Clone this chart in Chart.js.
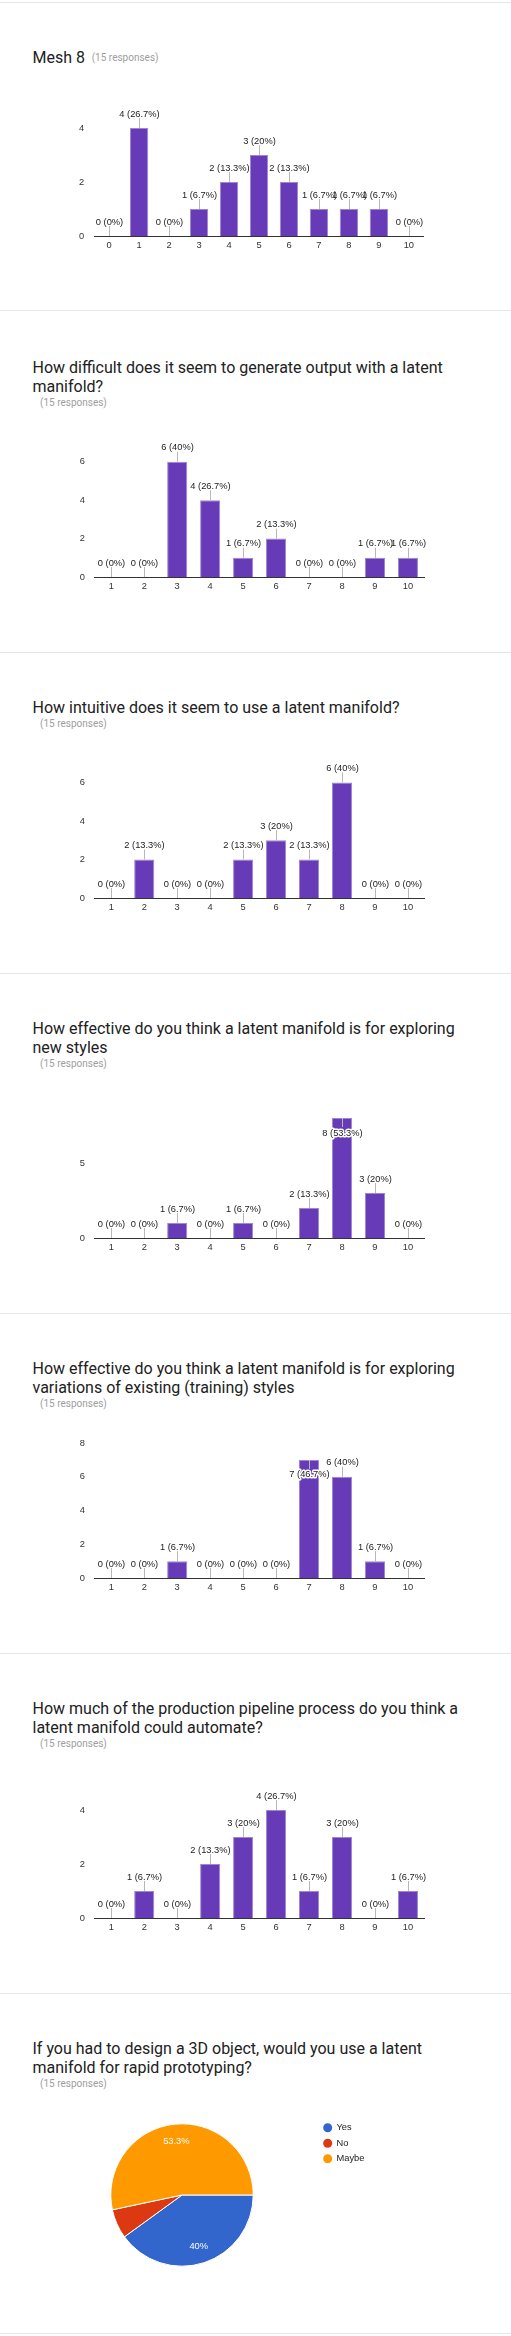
<!DOCTYPE html>
<html><head><meta charset="utf-8">
<script src="https://cdn.jsdelivr.net/npm/chart.js@4"></script>
<style>
html,body{margin:0;padding:0;background:#fff;}
body{position:relative;width:511px;height:2336px;overflow:hidden;}
.sep{position:absolute;left:0;width:511px;height:1px;background:#e6e6e6;}
.title{position:absolute;left:32.5px;font-family:Roboto,sans-serif;font-size:16px;line-height:19px;color:#212121;white-space:nowrap;}
.resp{position:absolute;left:40px;font-family:Roboto,sans-serif;font-size:10px;line-height:12px;color:#9e9e9e;white-space:nowrap;}
canvas{position:absolute;left:0;}
</style></head>
<body>
<div class="sep" style="top:2px"></div>
<div class="sep" style="top:310px"></div>
<div class="sep" style="top:652px"></div>
<div class="sep" style="top:973px"></div>
<div class="sep" style="top:1313px"></div>
<div class="sep" style="top:1653px"></div>
<div class="sep" style="top:1993px"></div>
<div class="sep" style="top:2333px"></div>

<div class="title" style="top:48.3px">Mesh 8</div>
<div class="resp" style="left:91.7px;top:51.7px">(15 responses)</div>
<canvas id="c1" width="511" height="190" style="top:76px"></canvas>

<div class="title" style="top:358.3px">How difficult does it seem to generate output with a latent<br>manifold?</div>
<div class="resp" style="top:396.7px">(15 responses)</div>
<canvas id="c2" width="511" height="190" style="top:417px"></canvas>

<div class="title" style="top:698.3px">How intuitive does it seem to use a latent manifold?</div>
<div class="resp" style="top:717.7px">(15 responses)</div>
<canvas id="c3" width="511" height="190" style="top:738.3px"></canvas>

<div class="title" style="top:1019.3px">How effective do you think a latent manifold is for exploring<br>new styles</div>
<div class="resp" style="top:1057.7px">(15 responses)</div>
<canvas id="c4" width="511" height="190" style="top:1078.3px"></canvas>

<div class="title" style="top:1359.3px">How effective do you think a latent manifold is for exploring<br>variations of existing (training) styles</div>
<div class="resp" style="top:1397.7px">(15 responses)</div>
<canvas id="c5" width="511" height="190" style="top:1418.3px"></canvas>

<div class="title" style="top:1699.3px">How much of the production pipeline process do you think a<br>latent manifold could automate?</div>
<div class="resp" style="top:1737.7px">(15 responses)</div>
<canvas id="c6" width="511" height="190" style="top:1758.3px"></canvas>

<div class="title" style="top:2039.3px">If you had to design a 3D object, would you use a latent<br>manifold for rapid prototyping?</div>
<div class="resp" style="top:2077.7px">(15 responses)</div>
<canvas id="c7" width="511" height="200" style="top:2100px"></canvas>

<script>
// ---- data ----
const responses = 15;
const mesh8Categories = ['0','1','2','3','4','5','6','7','8','9','10'];
const scaleCategories = ['1','2','3','4','5','6','7','8','9','10'];
const mesh8Counts = [0,4,0,1,2,3,2,1,1,1,0];
const difficultyCounts = [0,0,6,4,1,2,0,0,1,1];
const intuitiveCounts = [0,2,0,0,2,3,2,6,0,0];
const newStylesCounts = [0,0,1,0,1,0,2,8,3,0];
const variationsCounts = [0,0,1,0,0,0,7,6,1,0];
const automationCounts = [0,1,0,2,3,4,1,3,0,1];
const mesh8Ticks = [0,2,4];
const difficultyTicks = [0,2,4,6];
const intuitiveTicks = [0,2,4,6];
const newStylesTicks = [0,5];
const variationsTicks = [0,2,4,6,8];
const automationTicks = [0,2,4];
const prototypingLabels = ['Yes','No','Maybe'];
const prototypingCounts = [6,1,8];

// ---- styling ----
const FONT = '"Liberation Sans", Arial, sans-serif';
const FS = 9.3;
Chart.defaults.font.family = FONT;
Chart.defaults.font.size = FS;
Chart.defaults.color = '#333';

function pct(v){
  const p = Math.round(v / responses * 1000) / 10;
  return (Number.isInteger(p) ? p.toFixed(0) : p.toFixed(1)) + '%';
}

const valueLabels = {
  id: 'valueLabels',
  afterDatasetsDraw(chart){
    const ctx = chart.ctx, area = chart.chartArea;
    const meta = chart.getDatasetMeta(0), data = chart.data.datasets[0].data;
    ctx.save();
    ctx.font = FS + 'px ' + FONT;
    ctx.textAlign = 'center';
    ctx.textBaseline = 'middle';
    meta.data.forEach((bar, i) => {
      const v = data[i];
      const x = Math.round(bar.x) + 0.5, top = bar.y;
      const txt = v + ' (' + pct(v) + ')';
      const inside = top - 20 < area.top;
      ctx.strokeStyle = '#b8b8b8'; ctx.lineWidth = 1;
      ctx.beginPath();
      if (inside){ ctx.moveTo(x, top); ctx.lineTo(x, top + 9); }
      else { ctx.moveTo(x, top - 10); ctx.lineTo(x, top); }
      ctx.stroke();
      const ty = inside ? top + 15 : top - 14;
      if (inside){ ctx.lineWidth = 3; ctx.strokeStyle = '#fff'; ctx.lineJoin='round'; ctx.strokeText(txt, x, ty); }
      ctx.fillStyle = '#222';
      ctx.fillText(txt, x, ty);
    });
    ctx.restore();
  }
};

function barChart(id, cats, counts, ticks, unit, ymax, left, right){
  const H = 190, zero = 160, xh = 20, yw = 20;
  new Chart(document.getElementById(id), {
    type: 'bar',
    data: { labels: cats, datasets: [{
      data: counts,
      backgroundColor: '#673ab7',
      borderColor: '#9f86d1',
      borderWidth: c => (c.raw ? 1 : 0),
      borderSkipped: 'start',
      categoryPercentage: 1,
      barPercentage: 0.61
    }]},
    options: {
      responsive: false, animation: false,
      layout: { padding: { left: left - yw, right: 511 - right, top: zero - ymax * unit, bottom: H - zero - xh } },
      plugins: { legend: { display: false }, tooltip: { enabled: false } },
      scales: {
        x: {
          grid: { display: false, drawTicks: false },
          border: { display: true, color: '#333', width: 1 },
          ticks: { padding: 4, color: '#333', maxRotation: 0, autoSkip: false },
          afterFit: s => { s.height = xh; }
        },
        y: {
          min: 0, max: ymax,
          grid: { display: false, drawTicks: false },
          border: { display: false },
          ticks: { padding: 10, color: '#333' },
          afterBuildTicks: s => { s.ticks = ticks.map(v => ({ value: v })); },
          afterFit: s => { s.width = yw; }
        }
      }
    },
    plugins: [valueLabels]
  });
}

barChart('c1', mesh8Categories, mesh8Counts, mesh8Ticks, 27, 5, 94.2, 423.8);
barChart('c2', scaleCategories, difficultyCounts, difficultyTicks, 19.2, 7.5, 94.8, 424.4);
barChart('c3', scaleCategories, intuitiveCounts, intuitiveTicks, 19.33, 7.5, 94.8, 424.4);
barChart('c4', scaleCategories, newStylesCounts, newStylesTicks, 15, 8, 94.8, 424.4);
barChart('c5', scaleCategories, variationsCounts, variationsTicks, 16.875, 8, 94.8, 424.4);
barChart('c6', scaleCategories, automationCounts, automationTicks, 27, 5, 94.8, 424.4);

// ---- pie ----
const pieColors = ['#3366cc', '#dc3912', '#ff9900'];
const pieExtras = {
  id: 'pieExtras',
  afterDatasetsDraw(chart){
    const ctx = chart.ctx, meta = chart.getDatasetMeta(0);
    const total = prototypingCounts.reduce((a, b) => a + b, 0);
    ctx.save();
    ctx.font = FS + 'px ' + FONT;
    ctx.textAlign = 'center'; ctx.textBaseline = 'middle';
    ctx.fillStyle = '#fff';
    meta.data.forEach((arc, i) => {
      const frac = prototypingCounts[i] / total;
      if (frac < 0.1) return;
      const mid = (arc.startAngle + arc.endAngle) / 2;
      const r = arc.outerRadius * 0.76;
      ctx.fillText(pct(prototypingCounts[i]), arc.x + Math.cos(mid) * r, arc.y + Math.sin(mid) * r);
    });
    // legend
    ctx.textAlign = 'left';
    prototypingLabels.forEach((lab, i) => {
      const y = 27.7 + i * 15.5;
      ctx.fillStyle = pieColors[i];
      ctx.beginPath(); ctx.arc(327.7, y, 4.5, 0, Math.PI * 2); ctx.fill();
      ctx.fillStyle = '#222';
      ctx.fillText(lab, 336.5, y);
    });
    ctx.restore();
  }
};
new Chart(document.getElementById('c7'), {
  type: 'pie',
  data: { labels: prototypingLabels, datasets: [{
    data: prototypingCounts,
    backgroundColor: pieColors,
    borderColor: '#fff',
    borderWidth: 1
  }]},
  options: {
    responsive: false, animation: false,
    rotation: 90,
    layout: { padding: { left: 110.3, right: 257.3, top: 23.3, bottom: 33.3 } },
    plugins: { legend: { display: false }, tooltip: { enabled: false } }
  },
  plugins: [pieExtras]
});
</script>
</body></html>
